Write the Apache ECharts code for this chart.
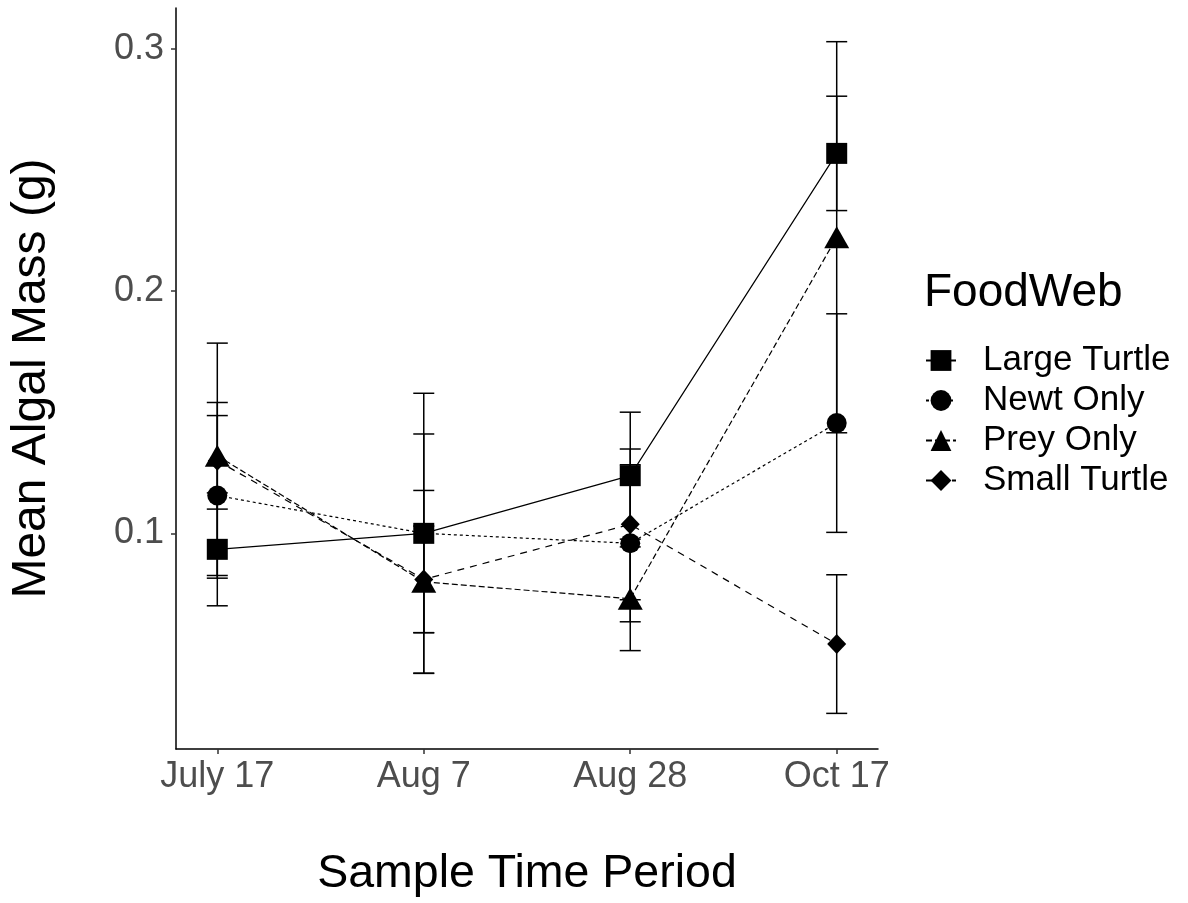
<!DOCTYPE html>
<html>
<head>
<meta charset="utf-8">
<script src="https://cdn.jsdelivr.net/npm/echarts@6/dist/echarts.min.js"></script>
<style>html,body{margin:0;padding:0;background:#fff;}#chart{width:1188px;height:903px;}</style>
</head>
<body>
<div id="chart"></div>
<script>
const categories = ['July 17', 'Aug 7', 'Aug 28', 'Oct 17'];
const yTicks = [0.1, 0.2, 0.3];
const groupNames = ['Large Turtle', 'Newt Only', 'Prey Only', 'Small Turtle'];

const largeTurtleMean = [0.0934, 0.1000, 0.1238, 0.2568];
const largeTurtleSE   = [0.0233, 0.0410, 0.0262, 0.0236];
const newtOnlyMean    = [0.1156, 0.1000, 0.0959, 0.1455];
const newtOnlySE      = [0.0330, 0.0578, 0.0324, 0.0451];
const preyOnlyMean    = [0.1320, 0.0800, 0.0730, 0.2222];
const preyOnlySE      = [0.0220, 0.0377, 0.0214, 0.0807];
const smallTurtleMean = [0.1300, 0.0810, 0.1037, 0.0543];
const smallTurtleSE   = [0.0485, 0.0220, 0.0311, 0.0286];

const means = [largeTurtleMean, newtOnlyMean, preyOnlyMean, smallTurtleMean];
const ses = [largeTurtleSE, newtOnlySE, preyOnlySE, smallTurtleSE];
const symbols = ['rect', 'circle', 'triangle', 'diamond'];
const symbolSizes = [21, 20, [25, 22], [19, 20]];
const dashes = ['solid', [3, 3], [6, 3], [7, 6]];

const FONT = 'Liberation Sans, Arial, sans-serif';

function errRender(params, api) {
  const x = api.value(0), lo = api.value(1), hi = api.value(2);
  const t = api.coord([x, hi]);
  const b = api.coord([x, lo]);
  const w = 10.5;
  const st = { stroke: '#000', lineWidth: 1.5 };
  return {
    type: 'group',
    children: [
      { type: 'line', shape: { x1: t[0], y1: t[1], x2: b[0], y2: b[1] }, style: st },
      { type: 'line', shape: { x1: t[0] - w, y1: t[1], x2: t[0] + w, y2: t[1] }, style: st },
      { type: 'line', shape: { x1: b[0] - w, y1: b[1], x2: b[0] + w, y2: b[1] }, style: st }
    ]
  };
}

const series = [];
groupNames.forEach((name, g) => {
  series.push({
    type: 'custom',
    name: name + ' err',
    renderItem: errRender,
    data: means[g].map((m, i) => [i + 1, m - ses[g][i], m + ses[g][i]]),
    encode: { x: 0, y: [1, 2] },
    z: 1,
    silent: true
  });
});
groupNames.forEach((name, g) => {
  series.push({
    type: 'line',
    name: name,
    data: means[g].map((m, i) => [i + 1, m]),
    symbol: symbols[g],
    symbolSize: symbolSizes[g],
    showAllSymbol: true,
    itemStyle: { color: '#000' },
    lineStyle: { color: '#000', width: 1.2, type: dashes[g] },
    z: 3,
    animation: false
  });
});

const chart = echarts.init(document.getElementById('chart'), null, { renderer: 'canvas' });
chart.setOption({
  animation: false,
  backgroundColor: '#fff',
  grid: { left: 176, top: 8, width: 702, height: 746, containLabel: false },
  title: {
    text: 'FoodWeb', left: 919, top: 265,
    textStyle: { fontFamily: FONT, fontSize: 46, fontWeight: 'normal', color: '#000' }
  },
  legend: {
    data: groupNames,
    orient: 'vertical',
    left: 920, top: 338,
    itemWidth: 30, itemHeight: 26,
    itemGap: 5,
    textStyle: { fontFamily: FONT, fontSize: 35, color: '#000', lineHeight: 35, padding: [0, 0, 0, 22] },
    selectedMode: false
  },
  xAxis: {
    type: 'value', min: 0.8, max: 4.2,
    name: 'Sample Time Period', nameLocation: 'middle', nameGap: 102,
    nameTextStyle: { fontFamily: FONT, fontSize: 46.5, color: '#000' },
    splitLine: { show: false },
    axisLine: { lineStyle: { color: '#000', width: 1.5 } },
    axisTick: { show: true, length: 5, lineStyle: { color: '#333', width: 1.5 }, customValues: [1, 2, 3, 4] },
    axisLabel: {
      customValues: [1, 2, 3, 4],
      formatter: v => categories[Math.round(v) - 1] || '',
      fontFamily: FONT, fontSize: 36, color: '#4D4D4D', margin: 10
    }
  },
  yAxis: {
    type: 'value', min: 0.0110, max: 0.3168,
    name: 'Mean Algal Mass (g)', nameLocation: 'middle', nameGap: 120, nameRotate: 90,
    nameTextStyle: { fontFamily: FONT, fontSize: 48, color: '#000' },
    splitLine: { show: false },
    axisLine: { show: true, lineStyle: { color: '#000', width: 1.5 } },
    axisTick: { show: true, length: 5, lineStyle: { color: '#333', width: 1.5 }, customValues: yTicks },
    axisLabel: {
      customValues: yTicks,
      formatter: v => v.toFixed(1),
      fontFamily: FONT, fontSize: 36, color: '#4D4D4D', margin: 12
    }
  },
  series: series
});
</script>
</body>
</html>
